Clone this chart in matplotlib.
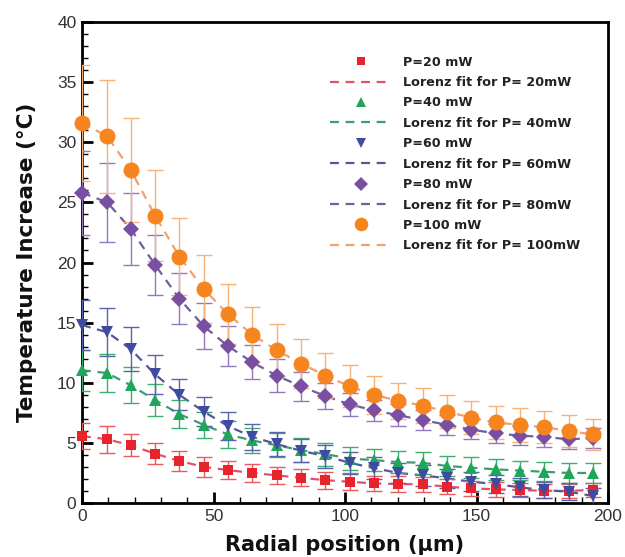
import matplotlib
matplotlib.use("Agg")
import matplotlib.pyplot as plt
from matplotlib.lines import Line2D
from matplotlib.ticker import MultipleLocator

plt.rcParams['font.family'] = ['Liberation Sans', 'DejaVu Sans']

radial_um = [0, 9.6, 18.5, 27.8, 37.0, 46.3, 55.5, 64.8, 74.0, 83.3, 92.5,
             101.8, 111.0, 120.3, 129.5, 138.8, 148.0, 157.3, 166.5, 175.8, 185.0, 194.3]

t20 = [5.57, 5.3, 4.8, 4.1, 3.5, 3.0, 2.74, 2.5, 2.3, 2.1, 1.9,
       1.77, 1.63, 1.58, 1.55, 1.36, 1.22, 1.14, 1.08, 1.02, 1.0, 1.1]
e20 = [1.1, 1.1, 0.9, 0.85, 0.8, 0.8, 0.75, 0.75, 0.7, 0.7, 0.7,
       0.7, 0.65, 0.65, 0.65, 0.6, 0.6, 0.6, 0.6, 0.6, 0.6, 0.6]

t40 = [11.05, 10.8, 9.8, 8.56, 7.4, 6.5, 5.7, 5.2, 4.8, 4.4, 4.07,
       3.7, 3.57, 3.4, 3.35, 3.08, 2.94, 2.8, 2.7, 2.6, 2.5, 2.5]
e40 = [1.7, 1.6, 1.5, 1.3, 1.2, 1.1, 1.1, 1.0, 1.0, 1.0, 0.95,
       0.95, 0.9, 0.9, 0.9, 0.85, 0.85, 0.85, 0.8, 0.8, 0.8, 0.8]

t60 = [14.8, 14.2, 12.8, 10.7, 9.0, 7.6, 6.4, 5.5, 4.9, 4.35, 3.9,
       3.35, 2.9, 2.5, 2.3, 2.05, 1.77, 1.58, 1.3, 1.08, 0.94, 0.58]
e60 = [2.1, 2.0, 1.8, 1.6, 1.3, 1.2, 1.2, 1.1, 1.0, 0.95, 0.95,
       0.9, 0.9, 0.85, 0.85, 0.8, 0.8, 0.75, 0.75, 0.7, 0.7, 0.7]

t80 = [25.8, 25.0, 22.8, 19.8, 17.0, 14.7, 13.05, 11.7, 10.6, 9.7, 8.9,
       8.2, 7.7, 7.3, 6.9, 6.5, 6.1, 5.8, 5.6, 5.5, 5.3, 5.4]
e80 = [3.5, 3.3, 3.0, 2.5, 2.1, 1.9, 1.65, 1.4, 1.35, 1.2, 1.05,
       0.95, 0.9, 0.9, 0.85, 0.85, 0.8, 0.8, 0.8, 0.8, 0.8, 0.8]

t100 = [31.6, 30.5, 27.7, 23.9, 20.5, 17.8, 15.7, 14.0, 12.7, 11.6, 10.6,
        9.7, 9.0, 8.5, 8.1, 7.6, 7.1, 6.7, 6.5, 6.3, 6.0, 5.7]
e100 = [4.8, 4.7, 4.3, 3.8, 3.2, 2.8, 2.5, 2.3, 2.15, 2.0, 1.9,
        1.75, 1.6, 1.5, 1.45, 1.4, 1.4, 1.4, 1.4, 1.35, 1.3, 1.3]

labels_p = ["P=20 mW", "P=40 mW", "P=60 mW", "P=80 mW", "P=100 mW"]
labels_fit = ["Lorenz fit for P= 20mW", "Lorenz fit for P= 40mW", "Lorenz fit for P= 60mW",
              "Lorenz fit for P= 80mW", "Lorenz fit for P= 100mW"]

series = [t20, t40, t60, t80, t100]
errors = [e20, e40, e60, e80, e100]
markers = ['s', '^', 'v', 'D', 'o']
msizes = [7.5, 9, 9, 8, 11.5]
mcolors = ['#e8232b', '#1ea65a', '#3f4ba0', '#7a4fa2', '#f6841f']
ecolors = ['#ea5a5a', '#3aae6e', '#5a62ad', '#9478bd', '#f7b27a']
fcolors = ['#e2506a', '#3d9d72', '#55569a', '#6e5f9e', '#f2a070']

fig = plt.figure(figsize=(6.25, 5.57), dpi=100)
ax = fig.add_axes([0.1312, 0.0969, 0.8416, 0.8636])

handles = []
for y, e, m, ms, mc, ec, fc, lp, lf in zip(series, errors, markers, msizes, mcolors,
                                             ecolors, fcolors, labels_p, labels_fit):
    ax.plot(radial_um, y, linestyle=(0, (4, 3)), color=fc, lw=1.6, zorder=2)
    ax.errorbar(radial_um, y, yerr=e, fmt='none', ecolor=ec, elinewidth=1.0,
                capsize=5.5, capthick=1.0, zorder=3)
    ax.plot(radial_um, y, linestyle='none', marker=m, ms=ms, color=mc,
            markeredgewidth=0, zorder=4, clip_on=False)
    handles.append(Line2D([], [], linestyle='none', marker=m, ms=ms * 0.85,
                          color=mc, markeredgewidth=0, label=lp))
    handles.append(Line2D([], [], linestyle=(0, (4, 3)), color=fc, lw=1.6, label=lf))

ax.set_xlim(0, 200)
ax.set_ylim(0, 40)
ax.xaxis.set_major_locator(MultipleLocator(50))
ax.xaxis.set_minor_locator(MultipleLocator(10))
ax.yaxis.set_major_locator(MultipleLocator(5))
ax.yaxis.set_minor_locator(MultipleLocator(1))
ax.tick_params(which='both', direction='in', top=False, right=False,
               labelsize=12.5, labelcolor='#333333')
ax.tick_params(which='major', length=8, width=2, pad=4)
ax.tick_params(which='minor', length=4, width=1)
for s in ax.spines.values():
    s.set_linewidth(2)

bold_family = ['DejaVu Sans']
ax.set_xlabel("Radial position (\u00b5m)", fontsize=15, fontweight='bold',
              family=bold_family, labelpad=8, color='#111111')
ax.set_ylabel("Temperature Increase (\u00b0C)", fontsize=15.5, fontweight='bold',
              family=bold_family, labelpad=14, color='#111111')

leg = ax.legend(handles=handles, loc='upper left', bbox_to_anchor=(0.4715, 0.930),
                frameon=False, prop={'weight': 'bold', 'size': 9.2, 'family': bold_family},
                handlelength=4.85, handletextpad=0.86, labelspacing=0.58,
                borderpad=0, borderaxespad=0)
for t in leg.get_texts():
    t.set_color('#222222')

fig.savefig("out.png", dpi=100)
